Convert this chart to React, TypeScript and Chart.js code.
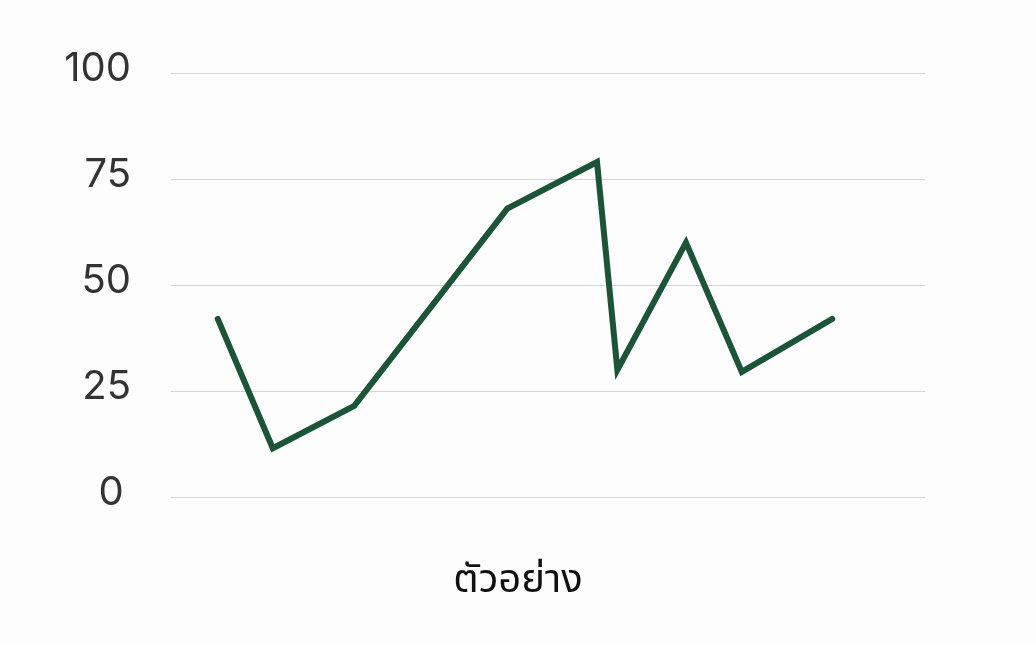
import React, { useEffect, useRef } from "react";
import { Chart, registerables } from "chart.js";

Chart.register(...registerables);

const xValues = [6.2, 13.5, 24.3, 44.6, 56.5, 59.2, 68.3, 75.7, 87.7];
const yValues = [42, 11.5, 21.5, 68, 79, 30, 60, 29.5, 42];
const yTicks = [0, 25, 50, 75, 100];
const xTitle = "ตัวอย่าง";

export default function App() {
  const ref = useRef<HTMLCanvasElement | null>(null);

  useEffect(() => {
    document.body.style.margin = "0";
    document.body.style.background = "#fdfdfd";
    const canvas = ref.current;
    if (!canvas) return;
    const chart = new Chart(canvas, {
      type: "line",
      data: {
        datasets: [
          {
            data: xValues.map((x, i) => ({ x, y: yValues[i] })),
            borderColor: "#1b5538",
            borderWidth: 6,
            borderCapStyle: "round",
            borderJoinStyle: "miter",
            pointRadius: 0,
            pointHoverRadius: 0,
            tension: 0,
            fill: false,
          },
        ],
      },
      options: {
        animation: false,
        responsive: false,
        maintainAspectRatio: false,
        layout: { padding: { left: 0, right: 0, top: 73, bottom: 0 } },
        plugins: {
          legend: { display: false },
          tooltip: { enabled: false },
          title: {
            display: true,
            position: "bottom",
            text: xTitle,
            color: "#111111",
            font: { family: "'Noto Sans Thai', 'Noto Sans', sans-serif", size: 40, weight: "normal" },
            padding: { top: 63, bottom: 38 },
          },
        },
        scales: {
          x: {
            type: "linear",
            min: 0,
            max: 100,
            grid: { display: false, drawTicks: false },
            border: { display: false },
            ticks: { display: false },
            afterFit: (scale: any) => {
              scale.height = 0;
            },
          },
          y: {
            type: "linear",
            min: 0,
            max: 100,
            afterBuildTicks: (scale: any) => {
              scale.ticks = yTicks.map((v) => ({ value: v }));
            },
            grid: { color: "#d6d6d6", lineWidth: 1, drawTicks: false },
            border: { display: false },
            ticks: {
              color: "#333333",
              padding: 40,
              font: { family: "Inter, sans-serif", size: 40 },
              labelOffset: -4,
              callback: (v: any) => (v === 0 ? "0\u2009" : String(v)),
            },
            afterFit: (scale: any) => {
              scale.width = 171;
            },
          },
          y2: {
            type: "linear",
            position: "right",
            display: true,
            grid: { display: false, drawTicks: false },
            border: { display: false },
            ticks: { display: false },
            afterFit: (scale: any) => {
              scale.width = 111;
            },
          },
        },
      },
    });
    return () => chart.destroy();
  }, []);

  return (
    <div style={{ width: 1036, height: 646, background: "#fdfdfd" }}>
      <canvas ref={ref} width={1036} height={646} style={{ display: "block" }} />
    </div>
  );
}
